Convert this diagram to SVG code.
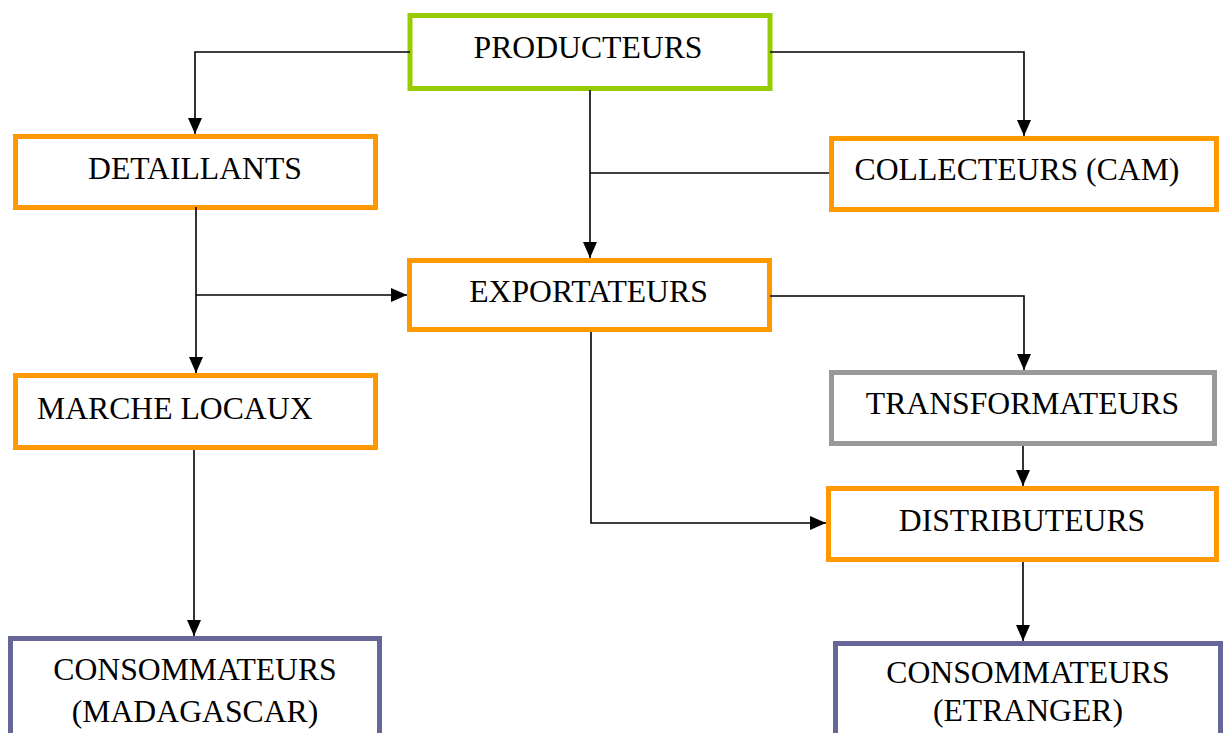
<svg xmlns="http://www.w3.org/2000/svg" width="1225" height="733" viewBox="0 0 1225 733">
<style>
  .box { fill: #ffffff; stroke-width: 5; }
  .green { stroke: #99CC00; }
  .orange { stroke: #FF9900; }
  .gray { stroke: #999999; }
  .purple { stroke: #666699; }
  .lbl { font-family: "Liberation Serif", "Times New Roman", serif; font-size: 31.7px; fill: #000000; text-anchor: middle; }
  .conn { fill: none; stroke: #000000; stroke-width: 1.6; }
  .arr { marker-end: url(#ah); }
</style>
<defs>
  <marker id="ah" viewBox="0 0 16 14" refX="16" refY="7" markerWidth="16" markerHeight="14" markerUnits="userSpaceOnUse" orient="auto">
    <path d="M0,0 L16,7 L0,14 z" fill="#000000"/>
  </marker>
</defs>
<rect width="1225" height="733" fill="#ffffff"/>
<g id="nodes">
  <g id="producteurs">
    <rect class="box green" x="410" y="15.5" width="360" height="73"/>
    <text class="lbl" x="588" y="58">PRODUCTEURS</text>
  </g>
  <g id="detaillants">
    <rect class="box orange" x="15.5" y="136.5" width="360" height="71"/>
    <text class="lbl" x="195" y="179">DETAILLANTS</text>
  </g>
  <g id="collecteurs">
    <rect class="box orange" x="831.5" y="138.5" width="385" height="71"/>
    <text class="lbl" x="1017" y="180">COLLECTEURS (CAM)</text>
  </g>
  <g id="exportateurs">
    <rect class="box orange" x="409.5" y="260.5" width="360" height="69"/>
    <text class="lbl" x="588.5" y="302">EXPORTATEURS</text>
  </g>
  <g id="marche-locaux">
    <rect class="box orange" x="15.5" y="375.5" width="360" height="72"/>
    <text class="lbl" x="37" y="419" style="text-anchor:start">MARCHE LOCAUX</text>
  </g>
  <g id="transformateurs">
    <rect class="box gray" x="831.5" y="372.5" width="383" height="71"/>
    <text class="lbl" x="1022.5" y="414">TRANSFORMATEURS</text>
  </g>
  <g id="distributeurs">
    <rect class="box orange" x="828.5" y="488.5" width="388" height="71"/>
    <text class="lbl" x="1022" y="531">DISTRIBUTEURS</text>
  </g>
  <g id="consommateurs-madagascar">
    <rect class="box purple" x="10.5" y="638.5" width="369" height="110"/>
    <text class="lbl" x="195" y="680">CONSOMMATEURS</text>
    <text class="lbl" x="195" y="722">(MADAGASCAR)</text>
  </g>
  <g id="consommateurs-etranger">
    <rect class="box purple" x="835.5" y="643.5" width="385" height="110"/>
    <text class="lbl" x="1028" y="683">CONSOMMATEURS</text>
    <text class="lbl" x="1028" y="721">(ETRANGER)</text>
  </g>
</g>
<g id="connectors">
  <path class="conn arr" d="M410 52 H195 V134"/>
  <path class="conn arr" d="M770 52 H1024 V136"/>
  <path class="conn arr" d="M590 90 V258"/>
  <path class="conn" d="M829 173 H590"/>
  <path class="conn arr" d="M196 207 V373"/>
  <path class="conn arr" d="M196 295 H407"/>
  <path class="conn arr" d="M770 296 H1024 V370"/>
  <path class="conn arr" d="M591 332 V523 H826"/>
  <path class="conn arr" d="M1023 446 V486"/>
  <path class="conn arr" d="M1023 562 V641"/>
  <path class="conn arr" d="M194 450 V636"/>
</g>
</svg>
